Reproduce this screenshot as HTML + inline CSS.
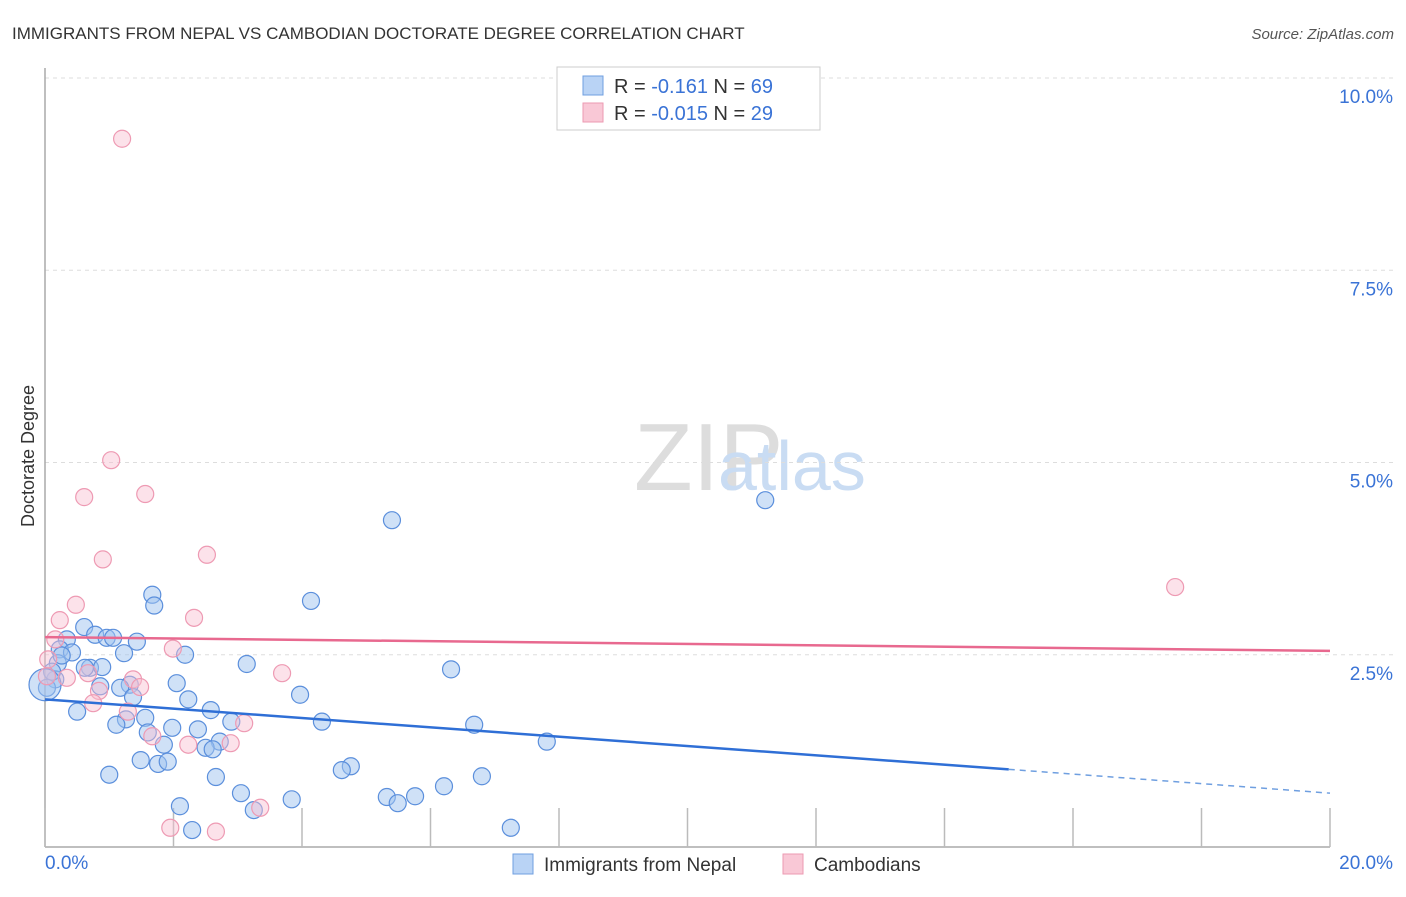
<!DOCTYPE html>
<html><head><meta charset="utf-8"><style>
body{margin:0;background:#fff;font-family:"Liberation Sans",sans-serif;}
svg text{font-family:"Liberation Sans",sans-serif;}
</style></head><body>
<svg width="1406" height="892" id="c">
<text x="12" y="39" font-size="17" fill="#333">IMMIGRANTS FROM NEPAL VS CAMBODIAN DOCTORATE DEGREE CORRELATION CHART</text>
<text x="1394" y="39" font-size="15" fill="#555" text-anchor="end" font-style="italic">Source: ZipAtlas.com</text>
<text x="634" y="490" font-size="96" fill="#ddd" font-family="Liberation Serif">ZIP</text>
<text x="718" y="490" font-size="70" fill="#c9dcf3">atlas</text>
<text x="34" y="456" font-size="18" fill="#333" transform="rotate(-90 34 456)" text-anchor="middle">Doctorate Degree</text>
<g id="grid"></g><g id="pts"></g><g id="lines"></g>
<g>
<rect x="557" y="67" width="263" height="63" fill="#fff" stroke="#ccc"/>
<rect x="583" y="76" width="20" height="19" fill="#b9d3f5" stroke="#6f9fe0"/>
<rect x="583" y="103" width="20" height="19" fill="#f9c8d6" stroke="#ec9ab2"/>
<text x="614" y="93" font-size="20" fill="#333">R = <tspan fill="#3a73d6"> -0.161</tspan>   N = <tspan fill="#3a73d6">69</tspan></text>
<text x="614" y="120" font-size="20" fill="#333">R = <tspan fill="#3a73d6">-0.015</tspan>   N = <tspan fill="#3a73d6">29</tspan></text>
</g>
<g>
<rect x="513" y="854" width="20" height="20" fill="#b9d3f5" stroke="#6f9fe0"/>
<text x="544" y="871" font-size="19" fill="#333">Immigrants from Nepal</text>
<rect x="783" y="854" width="20" height="20" fill="#f9c8d6" stroke="#ec9ab2"/>
<text x="814" y="871" font-size="19" fill="#333">Cambodians</text>
</g>
</svg>
<script>
const yTicks=[2.5,5,7.5,10];
const yTickLabels=["2.5%","5.0%","7.5%","10.0%"];
const xTickLabels=["0.0%","20.0%"];
const nepalX=[1.67,1.70,4.14,5.40,11.21,0.61,0.78,0.96,1.06,1.43,0.34,1.23,2.18,3.14,6.32,0.23,0.42,0.20,0.70,0.89,0.62,0.16,0.11,0.03,2.05,1.32,3.97,1.17,0.86,1.37,2.23,2.58,0.50,1.56,1.26,1.11,1.98,2.38,2.90,4.31,6.68,1.60,1.85,2.72,2.50,2.61,7.81,1.49,1.76,1.91,4.76,4.62,1.00,2.66,6.80,6.21,3.05,5.32,5.76,5.49,3.84,2.10,3.25,2.29,7.25,0.26,0.0];
const nepalY=[3.28,3.14,3.20,4.25,4.51,2.86,2.76,2.72,2.72,2.67,2.70,2.52,2.50,2.38,2.31,2.57,2.53,2.39,2.33,2.34,2.33,2.18,2.28,2.07,2.13,2.11,1.98,2.07,2.09,1.95,1.92,1.78,1.76,1.68,1.66,1.59,1.55,1.53,1.63,1.63,1.59,1.49,1.33,1.37,1.29,1.27,1.37,1.13,1.08,1.11,1.05,1.00,0.94,0.91,0.92,0.79,0.70,0.65,0.66,0.57,0.62,0.53,0.48,0.22,0.25,2.49,2.11];
const cambX=[1.20,1.03,0.61,1.56,0.90,2.52,0.48,0.23,2.32,0.16,1.99,3.69,1.37,0.67,0.34,0.03,0.84,0.75,1.29,3.10,1.67,2.23,2.89,3.35,1.95,2.66,17.59,0.05,1.48];
const cambY=[9.21,5.03,4.55,4.59,3.74,3.80,3.15,2.95,2.98,2.70,2.58,2.26,2.18,2.26,2.20,2.22,2.03,1.87,1.76,1.61,1.44,1.33,1.35,0.51,0.25,0.20,3.38,2.44,2.08];
const blueTrend=[1.92,1.01,0.70]; // at x=0, 15, 20
const pinkTrend=[2.73,2.55];
const X=v=>45+v/20*1285, Y=v=>847-v/10*769;
const NS="http://www.w3.org/2000/svg";
function mk(t,a,p){const e=document.createElementNS(NS,t);for(const k in a)e.setAttribute(k,a[k]);p.appendChild(e);return e;}
const g=document.getElementById('grid');
const gl=mk('g',{},g);


yTicks.forEach((t,i)=>{
 mk('line',{x1:45,x2:1394,y1:Y(t),y2:Y(t),stroke:'#ddd','stroke-dasharray':'4 4'},gl);
 const tx=mk('text',{x:1393,y:Y(t)+25,'font-size':19,fill:'#3a73d6','text-anchor':'end'},g);
 tx.textContent=yTickLabels[i];
 
 
});
const ax=mk('g',{},g);


mk('line',{x1:45,x2:45,y1:68,y2:847,stroke:'#aaa','stroke-width':1.5},ax);
mk('line',{x1:45,x2:1330,y1:847,y2:847,stroke:'#aaa','stroke-width':1.5},ax);
for(let i=0;i<=10;i++)mk('line',{x1:X(i*2),x2:X(i*2),y1:847,y2:808,stroke:'#bbb','stroke-width':1.5},ax);
[[0,45,'start'],[1,1393,'end']].forEach(([i,x,a])=>{const t=mk('text',{x:x,y:869,'font-size':19,fill:'#3a73d6','text-anchor':a},g);t.textContent=xTickLabels[i];

});
const p=document.getElementById('pts');
nepalX.forEach((x,i)=>{const c=mk('circle',{cx:X(x),cy:Y(nepalY[i]),r:(i==nepalX.length-1)?16:8.5,fill:'rgba(160,196,240,0.5)',stroke:'#5b8fdc','stroke-width':1.2},p);

});
cambX.forEach((x,i)=>{const c=mk('circle',{cx:X(x),cy:Y(cambY[i]),r:8.5,fill:'rgba(248,190,208,0.45)',stroke:'#ee9ab3','stroke-width':1.2},p);

});
const l=document.getElementById('lines');
let e=mk('line',{x1:X(0),y1:Y(blueTrend[0]),x2:X(15),y2:Y(blueTrend[1]),stroke:'#2f6fd6','stroke-width':2.5},l);


e=mk('line',{x1:X(15),y1:Y(blueTrend[1]),x2:X(20),y2:Y(blueTrend[2]),stroke:'#6f9fe0','stroke-width':1.5,'stroke-dasharray':'6 5'},l);


e=mk('line',{x1:X(0),y1:Y(pinkTrend[0]),x2:X(20),y2:Y(pinkTrend[1]),stroke:'#e8698f','stroke-width':2.5},l);


</script>
</body></html>
